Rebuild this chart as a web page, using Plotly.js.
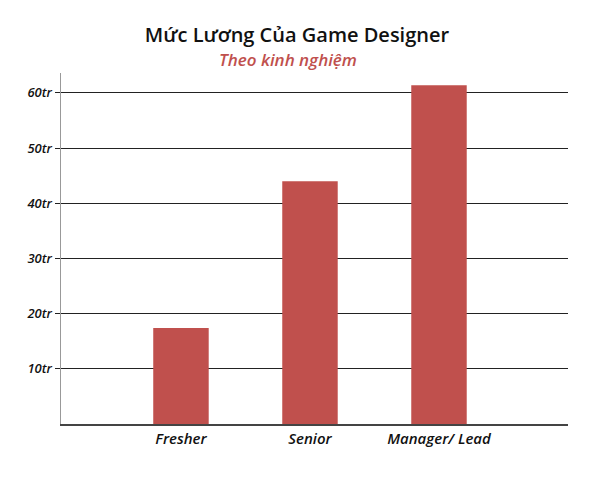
<!DOCTYPE html>
<html>
<head>
<meta charset="utf-8">
<script src="https://cdn.plot.ly/plotly-3.0.1.min.js"></script>
<style>
  body { margin: 0; background: #fff; }
  #chart { width: 600px; height: 480px; }
</style>
</head>
<body>
<div id="chart"></div>
<script>
// muc luong theo kinh nghiem (trieu dong)
var levels = ['Fresher', 'Senior', 'Manager/ Lead'];
var salary = [17.4, 44.0, 61.4];
var tickVals = [10, 20, 30, 40, 50, 60];
var tickText = ['10tr', '20tr', '30tr', '40tr', '50tr', '60tr'];

var barColor = '#c0504d';
var fontName = 'Open Sans, Lato, sans-serif';

var data = [{
  x: [0, 1, 2],
  y: salary,
  type: 'bar',
  width: 0.43,
  marker: {color: barColor},
  hoverinfo: 'none'
}];

var layout = {
  width: 600,
  height: 480,
  margin: {l: 61, r: 32, t: 73, b: 56, pad: 0},
  paper_bgcolor: '#fff',
  plot_bgcolor: '#fff',
  showlegend: false,
  font: {family: fontName, color: '#111'},
  title: {
    text: 'Mức Lương Của Game Designer',
    font: {family: fontName, size: 20, color: '#111', weight: 600},
    x: 0.495, xanchor: 'center',
    y: 0.928, yanchor: 'middle'
  },
  annotations: [{
    text: '<i>Theo kinh nghiệm</i>',
    xref: 'paper', yref: 'paper',
    x: 0.448, y: 1.039,
    xanchor: 'center', yanchor: 'middle',
    showarrow: false,
    font: {family: fontName, size: 17, color: barColor, weight: 600}
  }],
  xaxis: {
    range: [-0.93, 3],
    tickvals: [0, 1, 2],
    ticktext: levels.map(function (s) { return '<i>' + s + '</i>'; }),
    tickfont: {family: fontName, size: 15, color: '#111', weight: 600},
    showgrid: false,
    zeroline: false,
    showline: true,
    linecolor: '#444',
    linewidth: 1.5,
    ticks: '',
    fixedrange: true
  },
  yaxis: {
    range: [0, 63.6],
    tickvals: tickVals,
    ticktext: tickText.map(function (s) { return '<i>' + s + '</i>'; }),
    tickfont: {family: fontName, size: 13, color: '#111', weight: 600},
    showgrid: true,
    gridcolor: '#222',
    gridwidth: 1,
    zeroline: false,
    showline: true,
    linecolor: '#999',
    linewidth: 1.5,
    ticks: 'outside',
    ticklen: 5,
    tickcolor: '#222',
    fixedrange: true
  }
};

Plotly.newPlot('chart', data, layout, {displayModeBar: false, staticPlot: true});
</script>
</body>
</html>
